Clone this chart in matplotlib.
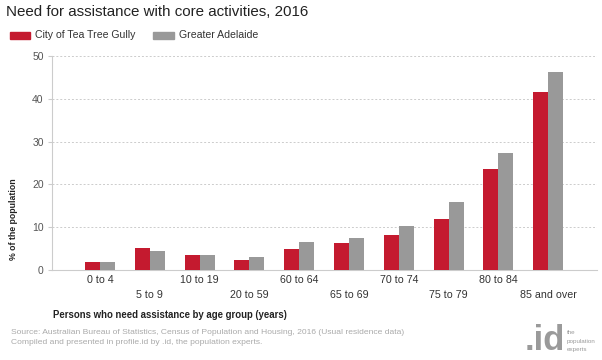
import matplotlib
matplotlib.use("Agg")
import matplotlib.pyplot as plt
from matplotlib.patches import Rectangle
import numpy as np

plt.rcParams['font.family'] = ['Liberation Sans', 'DejaVu Sans']

categories = ["0 to 4", "5 to 9", "10 to 19", "20 to 59", "60 to 64",
              "65 to 69", "70 to 74", "75 to 79", "80 to 84", "85 and over"]
series_names = ["City of Tea Tree Gully", "Greater Adelaide"]
tea_tree_gully = [1.8, 5.1, 3.4, 2.4, 4.9, 6.2, 8.1, 11.9, 23.6, 41.6]
greater_adelaide = [1.8, 4.5, 3.6, 3.0, 6.6, 7.5, 10.2, 15.9, 27.4, 46.2]
yticks = [0, 10, 20, 30, 40, 50]

RED = "#C41A2F"
GRAY = "#999999"

fig = plt.figure(figsize=(6.02, 3.6), dpi=100)
fig.patch.set_facecolor("white")
W, H = 602, 360
ax = fig.add_axes([52 / W, 1 - 270 / H, (597 - 52) / W, (270 - 56) / H])

x = np.arange(len(categories))
bw = 0.30
ax.bar(x - bw / 2, tea_tree_gully, width=bw, color=RED, zorder=3)
ax.bar(x + bw / 2, greater_adelaide, width=bw, color=GRAY, zorder=3)

ax.set_xlim(-0.965, 9.98)
ax.set_ylim(0, 50)
ax.set_yticks(yticks)
ax.set_yticklabels([str(v) for v in yticks], fontsize=7.5, color="#555555")
ax.tick_params(axis='y', length=3, color="#cccccc", pad=3)
ax.set_xticks([])
for v in yticks[1:]:
    ax.axhline(v, color="#cccccc", lw=0.7, ls=(0, (2, 2)), zorder=1)

for s in ["top", "right"]:
    ax.spines[s].set_visible(False)
ax.spines["left"].set_color("#cccccc")
ax.spines["bottom"].set_color("#cccccc")
ax.spines["left"].set_linewidth(0.8)
ax.spines["bottom"].set_linewidth(0.8)

tr = ax.get_xaxis_transform()
for i, lab in enumerate(categories):
    yy = -10 / 214 if i % 2 == 0 else -25 / 214
    ax.text(i, yy, lab, transform=tr, ha='center', va='center',
            fontsize=7.7, color="#333333")

# Title
fig.text(6 / W, 1 - 12 / H, "Need for assistance with core activities, 2016",
         fontsize=10.9, color="#222222", ha='left', va='center')

# Legend
leg_y = 1 - 35.5 / H
for (x0, x1, tx, name, col) in [(10, 30, 35, series_names[0], RED),
                                (153, 174, 179, series_names[1], GRAY)]:
    fig.patches.append(Rectangle((x0 / W, 1 - 39 / H), (x1 - x0) / W, 7 / H,
                                 transform=fig.transFigure, color=col))
    fig.text(tx / W, leg_y, name, fontsize=7.6, color="#333333",
             ha='left', va='center')

# Axis titles
fig.text(53 / W, 1 - 315 / H, "Persons who need assistance by age group (years)",
         fontsize=6.9, fontweight='bold', color="#222222", ha='left', va='center')
fig.text(14 / W, 1 - 219 / H, "% of the population", rotation=90,
         fontsize=6.3, fontweight='bold', color="#222222", ha='center', va='center')

# Source
fig.text(11 / W, 1 - 333 / H,
         "Source: Australian Bureau of Statistics, Census of Population and Housing, 2016 (Usual residence data)",
         fontsize=6.1, color="#aaaaaa", ha='left', va='center')
fig.text(11 / W, 1 - 343 / H,
         "Compiled and presented in profile.id by .id, the population experts.",
         fontsize=6.1, color="#aaaaaa", ha='left', va='center')

# Logo
fig.text(545 / W, 1 - 341 / H, ".id", fontsize=25, fontweight='bold',
         color="#9a9a9a", ha='center', va='center')
for k, w in enumerate(["the", "population", "experts"]):
    fig.text(567 / W, 1 - (333 + 8 * k) / H, w, fontsize=4.5,
             color="#9a9a9a", ha='left', va='center')

fig.savefig("out.png", dpi=100, facecolor="white")
